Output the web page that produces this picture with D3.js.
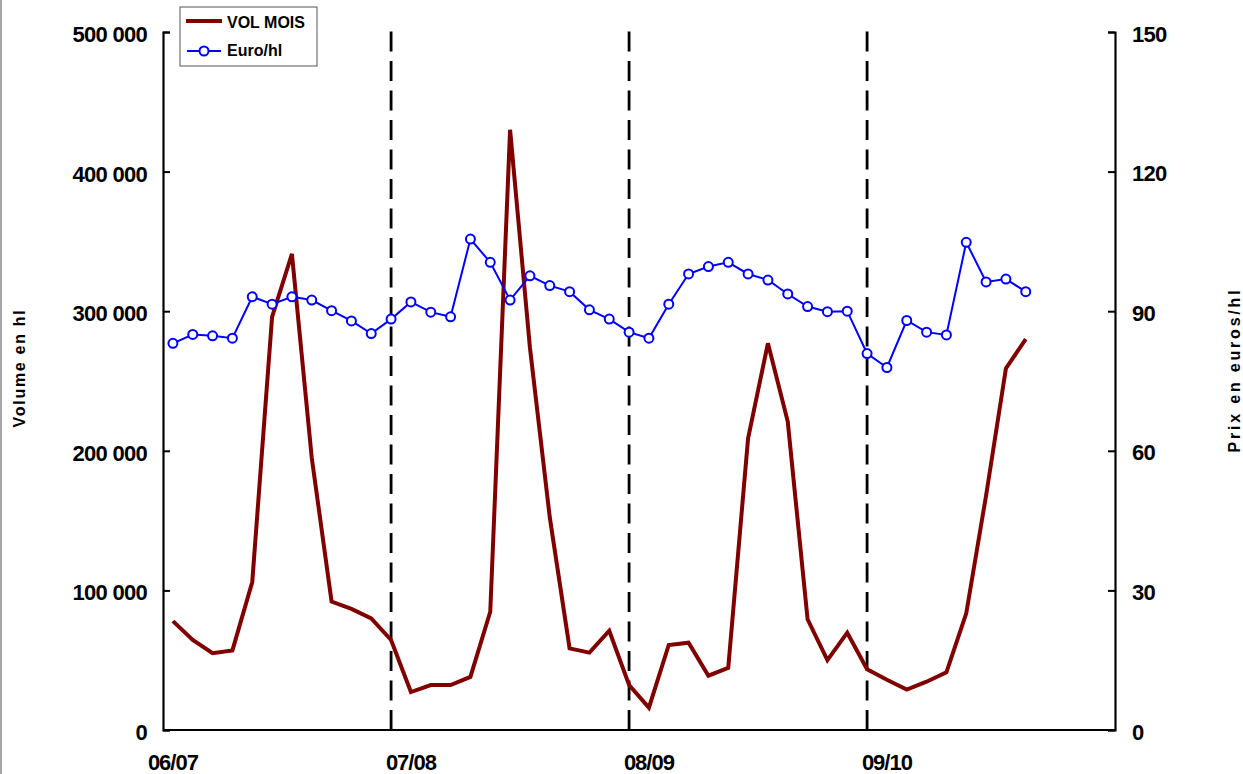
<!DOCTYPE html>
<html><head><meta charset="utf-8">
<script src="https://cdn.jsdelivr.net/npm/d3@7"></script>
<style>body{margin:0;background:#fff}svg{display:block}text{font-family:"Liberation Sans",Arial,sans-serif;font-weight:bold}</style>
</head><body>
<svg id="c" width="1243" height="774"></svg>
<script>
const seasonLabels = ["06/07","07/08","08/09","09/10"];
const volume = [78000,64500,55000,57000,106000,296000,341000,195000,92000,86700,80000,64500,
  27200,32200,32200,38000,84700,430000,274000,152500,58500,55400,71100,32200,
  16000,60900,62500,38900,44600,209000,277000,221000,79300,50100,69700,43500,
  36000,29000,34600,41300,83600,168000,259000,280000];
const price = [83.1,85.0,84.7,84.2,93.1,91.5,93.1,92.4,90.1,87.9,85.2,88.3,
  92.0,89.8,88.8,105.5,100.5,92.4,97.6,95.5,94.2,90.3,88.3,85.5,
  84.2,91.5,98.0,99.6,100.5,98.0,96.7,93.7,91.0,89.9,90.0,80.9,
  77.9,88.0,85.5,84.9,104.8,96.3,96.9,94.2];
const volTicks = [0,100000,200000,300000,400000,500000];
const priceTicks = [0,30,60,90,120,150];
const nSlots = 48;
const seasonStarts = [0,12,24,36];
const seasonEnds = [11,23,35];

const svg = d3.select("#c");
const L=163, R=1115, T=32, B=730;
const x = d3.scaleBand().domain(d3.range(nSlots)).range([L,R]).paddingInner(0).paddingOuter(0);
const cx = i => x(i) + x.bandwidth()/2;
const yV = d3.scaleLinear().domain([0,500000]).range([B,T]);
const yP = d3.scaleLinear().domain([0,150]).range([B,T]);
const fmt = v => d3.format(",")(v).replace(/,/g," ");

// frame left edge
svg.append("line").attr("x1",1).attr("x2",1).attr("y1",0).attr("y2",774).attr("stroke","#888").attr("stroke-width",1.5);

// dashed season separators
svg.selectAll(".sep").data(seasonEnds).enter().append("line")
  .attr("x1",d=>cx(d)).attr("x2",d=>cx(d)).attr("y1",B).attr("y2",26)
  .attr("stroke","#000").attr("stroke-width",2.8).attr("stroke-dasharray","20,9.5");

// left axis
const gL = svg.append("g").attr("transform",`translate(${L},0)`)
  .call(d3.axisRight(yV).tickValues(volTicks).tickSize(7).tickFormat(""));
gL.select(".domain").attr("stroke-width",2.2);
gL.selectAll(".tick line").attr("stroke-width",2);
svg.selectAll(".vl").data(volTicks).enter().append("text")
  .attr("x",147).attr("y",d=>yV(d)+10).attr("text-anchor","end")
  .attr("font-size",22).attr("letter-spacing",-0.7).text(fmt);

// right axis
const gR = svg.append("g").attr("transform",`translate(${R},0)`)
  .call(d3.axisLeft(yP).tickValues(priceTicks).tickSize(7).tickFormat(""));
gR.select(".domain").attr("stroke-width",2.2);
gR.selectAll(".tick line").attr("stroke-width",2);
svg.selectAll(".pl").data(priceTicks).enter().append("text")
  .attr("x",1132).attr("y",d=>yP(d)+9.5).attr("text-anchor","start")
  .attr("font-size",22).attr("letter-spacing",-0.7).text(d=>d);

// bottom axis
svg.append("line").attr("x1",L).attr("x2",R).attr("y1",B).attr("y2",B).attr("stroke","#000").attr("stroke-width",2.2);
svg.selectAll(".xl").data(seasonStarts).enter().append("text")
  .attr("x",d=>cx(d)).attr("y",770).attr("text-anchor","middle")
  .attr("font-size",22).attr("letter-spacing",-1).text((d,i)=>seasonLabels[i]);

// axis titles
svg.append("text").attr("transform","translate(25,368) rotate(-90)").attr("text-anchor","middle")
  .attr("font-size",16).attr("letter-spacing",1.7).text("Volume en hl");
svg.append("text").attr("transform","translate(1240,370) rotate(-90)").attr("text-anchor","middle")
  .attr("font-size",16).attr("letter-spacing",2.8).text("Prix en euros/hl");

// volume line
svg.append("path").datum(volume)
  .attr("d",d3.line().x((d,i)=>cx(i)).y(d=>yV(d)))
  .attr("fill","none").attr("stroke","#800000").attr("stroke-width",4).attr("stroke-linejoin","miter");

// price line
svg.append("path").datum(price)
  .attr("d",d3.line().x((d,i)=>cx(i)).y(d=>yP(d)))
  .attr("fill","none").attr("stroke","#0000ff").attr("stroke-width",2);
svg.selectAll(".pm").data(price).enter().append("circle")
  .attr("cx",(d,i)=>cx(i)).attr("cy",d=>yP(d)).attr("r",4.5)
  .attr("fill","#fff").attr("stroke","#0000ff").attr("stroke-width",2);

// legend
const lg = svg.append("g");
lg.append("rect").attr("x",180).attr("y",7).attr("width",137).attr("height",59)
  .attr("fill","#fff").attr("stroke","#555").attr("stroke-width",1);
lg.append("line").attr("x1",186).attr("x2",222).attr("y1",21).attr("y2",21).attr("stroke","#800000").attr("stroke-width",4);
lg.append("text").attr("x",227).attr("y",28).attr("font-size",16).text("VOL MOIS");
lg.append("line").attr("x1",187).attr("x2",221).attr("y1",51).attr("y2",51).attr("stroke","#0000ff").attr("stroke-width",2);
lg.append("circle").attr("cx",204).attr("cy",51).attr("r",4.5).attr("fill","#fff").attr("stroke","#0000ff").attr("stroke-width",2);
lg.append("text").attr("x",227).attr("y",56).attr("font-size",16).text("Euro/hl");
</script>
</body></html>
